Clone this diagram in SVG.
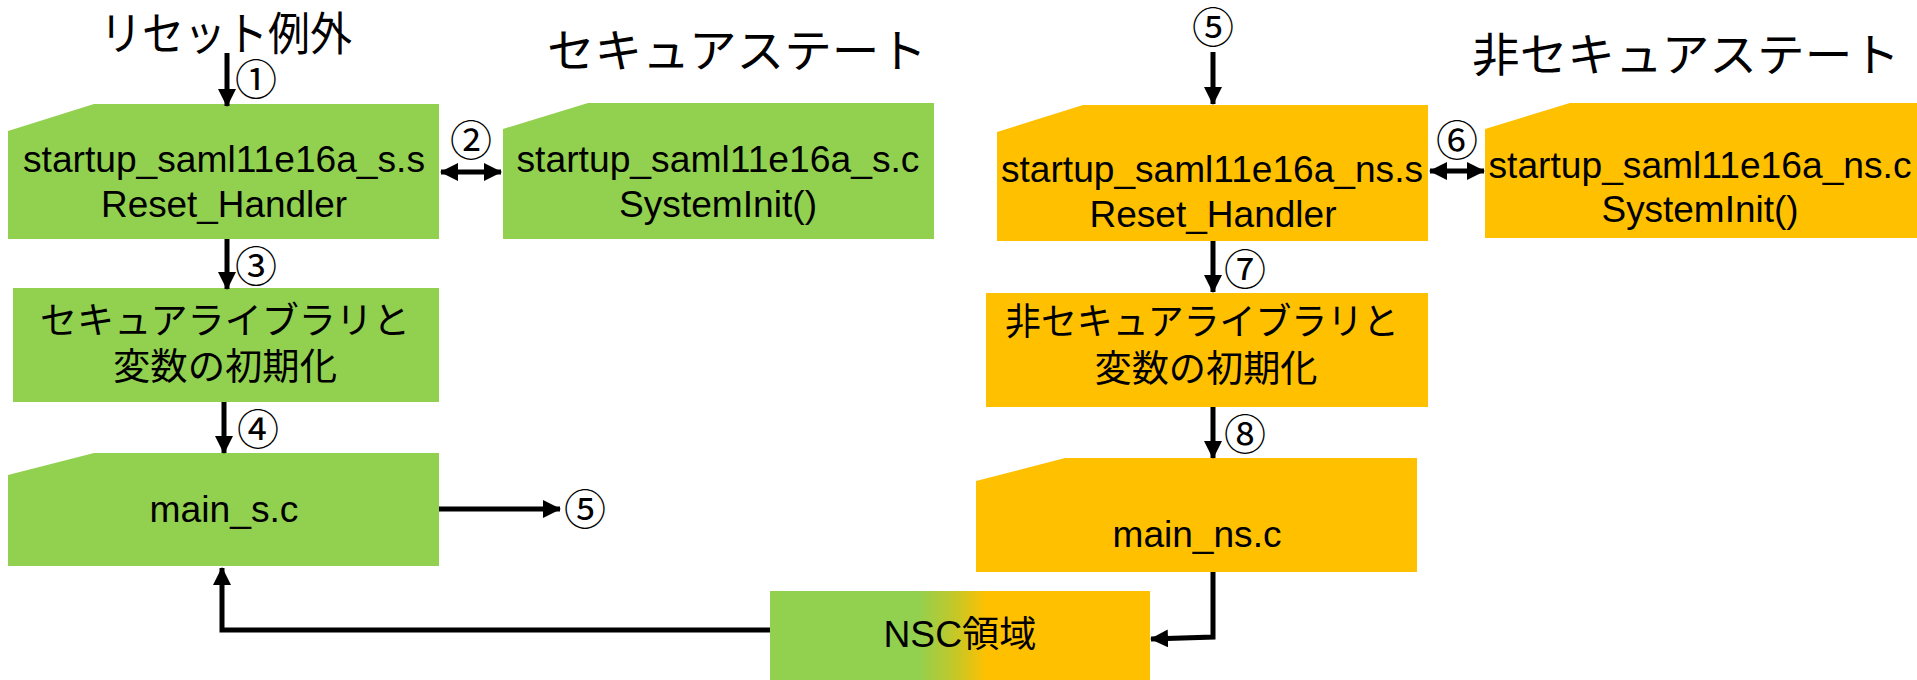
<svg xmlns="http://www.w3.org/2000/svg" width="1917" height="680" viewBox="0 0 1917 680">
  <style>
    .sec { fill: #92D050; }
    .ns { fill: #FFC000; }
    .lbl { font-family: "Liberation Sans", "Noto Sans CJK JP", sans-serif; font-size: 36px; fill: #000; text-anchor: middle; }
    .jp { font-family: "Noto Sans CJK JP", "Liberation Sans", sans-serif; font-size: 37px; fill: #000; text-anchor: middle; }
    .title { font-family: "Noto Sans CJK JP", sans-serif; font-size: 46px; fill: #000; text-anchor: middle; }
    .num { font-family: "Noto Sans CJK JP", sans-serif; font-size: 42px; fill: #000; text-anchor: middle; }
    .wire { fill: none; stroke: #000; stroke-width: 5; }
  </style>
  <defs>
    <marker id="head" viewBox="0 0 18 18" refX="17" refY="9" markerWidth="18" markerHeight="18" markerUnits="userSpaceOnUse" orient="auto-start-reverse">
      <path d="M0,0 L18,9 L0,18 Z" fill="#000"/>
    </marker>
    <linearGradient id="nscFill" x1="0" y1="0" x2="1" y2="0">
      <stop offset="0.39" stop-color="#92D050"/>
      <stop offset="0.48" stop-color="#C0C82A"/>
      <stop offset="0.57" stop-color="#FFC000"/>
    </linearGradient>
  </defs>

  <!-- section headings -->
  <text class="title" x="226" y="50" font-size="42" textLength="252" lengthAdjust="spacingAndGlyphs">リセット例外</text>
  <text class="title" x="737" y="67" textLength="380" lengthAdjust="spacingAndGlyphs">セキュアステート</text>
  <text class="title" x="1686" y="71" textLength="428" lengthAdjust="spacingAndGlyphs">非セキュアステート</text>

  <!-- secure side -->
  <g id="s_startup_s">
    <polygon class="sec" points="94,104 439,104 439,239 8,239 8,131"/>
    <text class="lbl" x="224" y="172" textLength="402" lengthAdjust="spacingAndGlyphs">startup_saml11e16a_s.s</text>
    <text class="lbl" x="224" y="217" textLength="246" lengthAdjust="spacingAndGlyphs">Reset_Handler</text>
  </g>
  <g id="s_startup_c">
    <polygon class="sec" points="588,103 934,103 934,239 503,239 503,129"/>
    <text class="lbl" x="718" y="172" textLength="403" lengthAdjust="spacingAndGlyphs">startup_saml11e16a_s.c</text>
    <text class="lbl" x="718" y="217" textLength="198" lengthAdjust="spacingAndGlyphs">SystemInit()</text>
  </g>
  <g id="s_init">
    <rect class="sec" x="13" y="288" width="426" height="114"/>
    <text class="jp" x="225" y="334" textLength="370" lengthAdjust="spacingAndGlyphs">セキュアライブラリと</text>
    <text class="jp" x="225" y="380" textLength="224" lengthAdjust="spacingAndGlyphs">変数の初期化</text>
  </g>
  <g id="s_main">
    <polygon class="sec" points="94,453 439,453 439,566 8,566 8,475"/>
    <text class="lbl" x="224" y="522" font-size="37" textLength="149" lengthAdjust="spacingAndGlyphs">main_s.c</text>
  </g>

  <!-- non-secure side -->
  <g id="ns_startup_s">
    <polygon class="ns" points="1083,105 1428,105 1428,241 997,241 997,132"/>
    <text class="lbl" x="1212" y="182" textLength="422" lengthAdjust="spacingAndGlyphs">startup_saml11e16a_ns.s</text>
    <text class="lbl" x="1213" y="227" textLength="247" lengthAdjust="spacingAndGlyphs">Reset_Handler</text>
  </g>
  <g id="ns_startup_c">
    <polygon class="ns" points="1570,103 1917,103 1917,238 1485,238 1485,129"/>
    <text class="lbl" x="1700" y="178" textLength="423" lengthAdjust="spacingAndGlyphs">startup_saml11e16a_ns.c</text>
    <text class="lbl" x="1700" y="222" textLength="197" lengthAdjust="spacingAndGlyphs">SystemInit()</text>
  </g>
  <g id="ns_init">
    <rect class="ns" x="986" y="293" width="442" height="114"/>
    <text class="jp" x="1202" y="335" textLength="394" lengthAdjust="spacingAndGlyphs">非セキュアライブラリと</text>
    <text class="jp" x="1206" y="382" textLength="223" lengthAdjust="spacingAndGlyphs">変数の初期化</text>
  </g>
  <g id="ns_main">
    <polygon class="ns" points="1065,458 1417,458 1417,572 976,572 976,481"/>
    <text class="lbl" x="1197" y="547" font-size="37" textLength="169" lengthAdjust="spacingAndGlyphs">main_ns.c</text>
  </g>

  <!-- veneer region shared by both states -->
  <g id="nsc">
    <rect x="770" y="591" width="380" height="89" fill="url(#nscFill)"/>
    <text class="lbl" x="960" y="647" textLength="153" lengthAdjust="spacingAndGlyphs">NSC領域</text>
  </g>

  <!-- connectors -->
  <g id="connectors">
    <line class="wire" x1="227" y1="53" x2="227" y2="106" marker-end="url(#head)"/>
    <line class="wire" x1="441" y1="172" x2="501" y2="172" marker-start="url(#head)" marker-end="url(#head)"/>
    <line class="wire" x1="227" y1="239" x2="227" y2="289" marker-end="url(#head)"/>
    <line class="wire" x1="224" y1="402" x2="224" y2="453" marker-end="url(#head)"/>
    <line class="wire" x1="439" y1="509" x2="560" y2="509" marker-end="url(#head)"/>
    <line class="wire" x1="1213" y1="52" x2="1213" y2="104" marker-end="url(#head)"/>
    <line class="wire" x1="1430" y1="171" x2="1484" y2="171" marker-start="url(#head)" marker-end="url(#head)"/>
    <line class="wire" x1="1213" y1="241" x2="1213" y2="292" marker-end="url(#head)"/>
    <line class="wire" x1="1213" y1="407" x2="1213" y2="458" marker-end="url(#head)"/>
    <polyline class="wire" points="1213,572 1213,637 1151,639" marker-end="url(#head)"/>
    <polyline class="wire" points="770,630 222,630 222,568" marker-end="url(#head)"/>
  </g>

  <!-- step numbers -->
  <g id="steps">
    <text class="num" x="256" y="95">①</text>
    <text class="num" x="471" y="156">②</text>
    <text class="num" x="256" y="282">③</text>
    <text class="num" x="258" y="445">④</text>
    <text class="num" x="1213" y="43">⑤</text>
    <text class="num" x="585" y="525">⑤</text>
    <text class="num" x="1457" y="156">⑥</text>
    <text class="num" x="1245" y="285">⑦</text>
    <text class="num" x="1245" y="450">⑧</text>
  </g>
</svg>
